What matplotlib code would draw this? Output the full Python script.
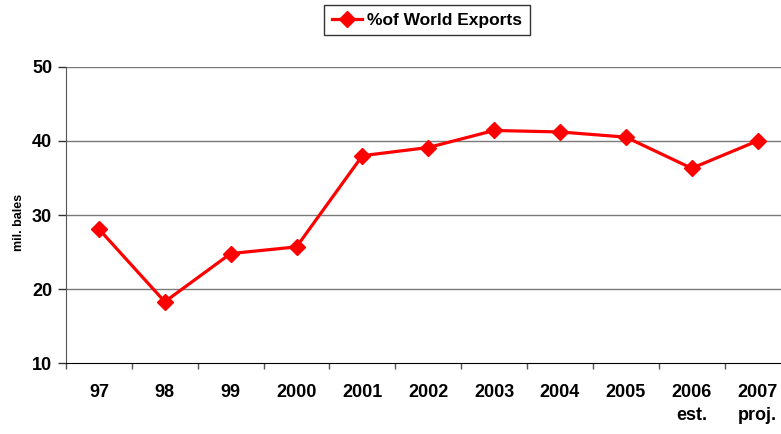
import matplotlib
matplotlib.use("Agg")
import matplotlib.pyplot as plt
import numpy as np

categories = ["97", "98", "99", "2000", "2001", "2002", "2003", "2004", "2005", "2006\nest.", "2007\nproj."]
world_exports_pct = [28.1, 18.3, 24.8, 25.7, 38.0, 39.1, 41.4, 41.2, 40.5, 36.3, 40.0]
y_ticks = [10, 20, 30, 40, 50]

plt.rcParams['font.family'] = ['Liberation Sans', 'DejaVu Sans']

fig = plt.figure(figsize=(7.81, 4.34), dpi=100)
ax = fig.add_axes([66/781, 1-363.3/434, 724.5/781, (363.3-66.7)/434])

x = np.arange(len(categories))
line, = ax.plot(x, world_exports_pct, color='#ff0000', lw=2.3, marker='D', ms=8.5,
                mec='#ff0000', mfc='#ff0000', label='%of World Exports')

ax.set_xlim(-0.5, len(categories)-0.5)
ax.set_ylim(10, 50)
ax.set_yticks(y_ticks)
ax.set_yticklabels([str(v) for v in y_ticks], fontsize=13, fontweight='bold')
for v in y_ticks[1:]:
    ax.axhline(v, color='#7a7a7a', lw=1, zorder=0)

ax.set_xticks(np.arange(len(categories)+1)-0.5, minor=False)
ax.set_xticklabels([])
ax.set_xticks(x, minor=True)
ax.set_xticklabels(categories, minor=True, fontsize=13, fontweight='bold', linespacing=1.45)
ax.tick_params(axis='x', which='minor', length=0, pad=15)
ax.tick_params(axis='x', which='major', length=4, width=1, color='#555555', direction='out')
ax.tick_params(axis='y', length=6, width=1, color='#333333', direction='out', pad=4)

for s in ['top', 'right']:
    ax.spines[s].set_visible(False)
ax.spines['left'].set_color('#555555')
ax.spines['bottom'].set_color('#000000')

fig.text(19/781, 1-222/434, 'mil. bales', rotation=90, ha='center', va='center',
         fontsize=9, fontweight='bold')

leg = fig.legend(handles=[line], loc='center', bbox_to_anchor=(427/781, 1-20/434),
                 frameon=True, fancybox=False, edgecolor='#000000',
                 prop={'weight': 'bold', 'size': 12.5}, handlelength=1.7,
                 handletextpad=0.3, borderpad=0.45, markerscale=1.0)
leg.get_frame().set_linewidth(1)

fig.savefig('out.png', dpi=100)
